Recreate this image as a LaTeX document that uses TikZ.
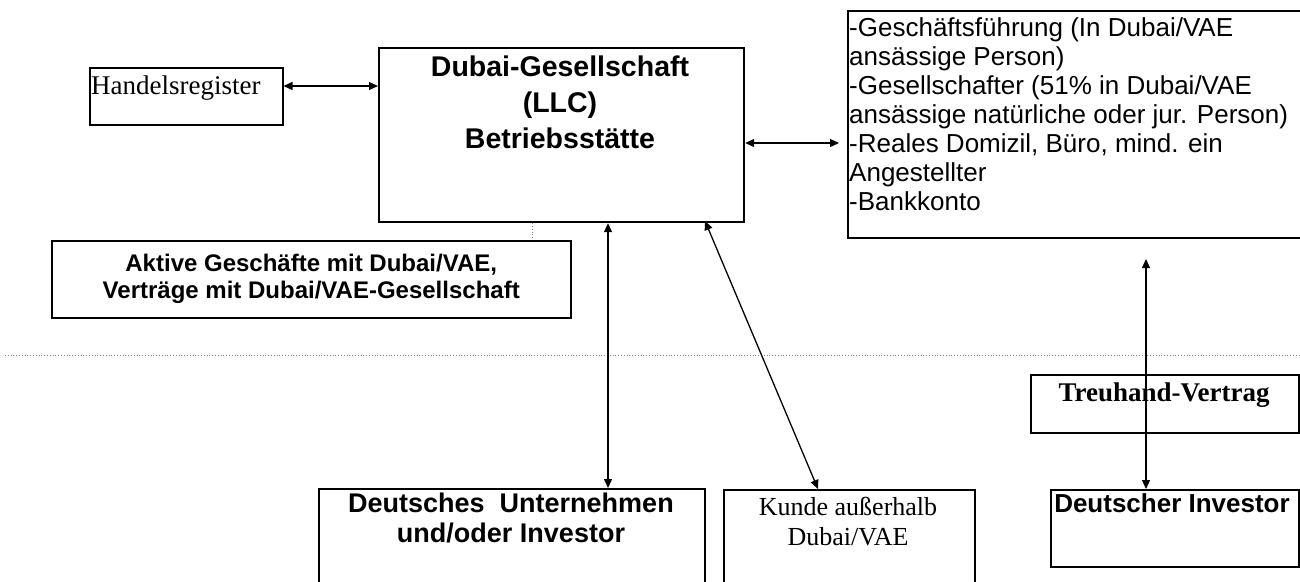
\documentclass[tikz,border=0pt]{standalone}
\usepackage{fontspec}
\setmainfont{Liberation Serif}
\setsansfont{Liberation Sans}
\usetikzlibrary{arrows.meta, positioning}
\tikzset{%
	plain box/.style={
		rectangle,
		draw,
		line width=1.5pt,
		inner sep=0pt,
		anchor=north west
	},
	heavy box/.style={
		plain box,
		line width=2.2pt
	},
	box label/.style={
		inner sep=0pt,
		align=center
	},
	link/.style={
		line width=1.3pt,
		{Triangle[length=9pt,width=8pt]}-{Triangle[length=9pt,width=8pt]}
	},
	guide/.style={
		draw=gray,
		dotted,
		line width=0.8pt
	},
}

\begin{document}
\begin{tikzpicture}[x=1pt, y=-1pt]
	\useasboundingbox (0,0) rectangle (1300,581);
	\clip (0,0) rectangle (1300,581);
	
	% boxes
	\node[plain box, minimum width=193pt, minimum height=57pt] (hreg) at (89,67) {};
	\node[heavy box, minimum width=365pt, minimum height=174pt] (llc) at (378,47) {};
	\node[plain box, minimum width=470pt, minimum height=227pt] (req) at (847,10) {};
	\node[plain box, minimum width=519pt, minimum height=77pt, align=center,
		font=\sffamily\bfseries\fontsize{24}{27}\selectfont] (active) at (51,240)
		{Aktive Geschäfte mit Dubai/VAE,\\Verträge mit Dubai/VAE-Gesellschaft};
	\node[plain box, minimum width=268pt, minimum height=58pt] (trust) at (1030,374) {};
	\node[heavy box, minimum width=386pt, minimum height=120pt] (german) at (318,488) {};
	\node[plain box, minimum width=251pt, minimum height=120pt] (client) at (723,489) {};
	\node[plain box, minimum width=248pt, minimum height=77pt] (investor) at (1050,489) {};
	
	% texts
	\node[box label, anchor=north west, font=\rmfamily\fontsize{27}{30}\selectfont] (hregtext) at (91,76) {Handelsregister};
	\node[box label, anchor=north, font=\sffamily\bfseries\fontsize{28.5}{36}\selectfont] (llctext) at (560,56)
		{Dubai-Gesellschaft\\(LLC)\\Betriebsstätte};
	\node[box label, align=left, anchor=north west, font=\sffamily\fontsize{26}{29}\selectfont] (reqtext) at (849,17)
		{-Geschäftsführung (In Dubai/VAE\\ansässige Person)\\-Gesellschafter (51\% in Dubai/VAE\\ansässige natürliche oder jur. Person)\\-Reales Domizil, Büro, mind. ein\\Angestellter\\-Bankkonto};
	\node[box label, anchor=north, font=\rmfamily\bfseries\fontsize{27}{30}\selectfont] (trusttext) at (1164,383) {Treuhand-Vertrag};
	\node[box label, anchor=north, font=\sffamily\bfseries\fontsize{27}{30}\selectfont] (germantext) at (511,493)
		{Deutsches\ \ Unternehmen\\und/oder Investor};
	\node[box label, anchor=north, font=\rmfamily\fontsize{26}{30}\selectfont] (clienttext) at (848,497)
		{Kunde außerhalb\\Dubai/VAE};
	\node[box label, anchor=north, font=\sffamily\bfseries\fontsize{26}{29}\selectfont] (investortext) at (1172,493) {Deutscher Investor};
	
	% helper points
	\coordinate (trusttop) at (1146,259);
	\coordinate (reqin) at (839,143);
	\coordinate (llcout) at (705,221);
	\coordinate (clientin) at (818,489);
	
	% dotted guides
	\draw[guide] (5,355) -- (1300,355);
	\draw[guide] (llc.south -| 532,0) -- (active.north -| 532,0);
	
	% connectors
	\draw[link] (hreg.east |- 0,86) -- (llc.west |- 0,86);
	\draw[link] (llc.east |- reqin) -- (reqin);
	\draw[link] (llc.south -| 608,0) -- (german.north -| 608,0);
	\draw[link] (llcout) -- (clientin);
	\draw[link] (trusttop) -- (investor.north -| trusttop);
\end{tikzpicture}
\end{document}
